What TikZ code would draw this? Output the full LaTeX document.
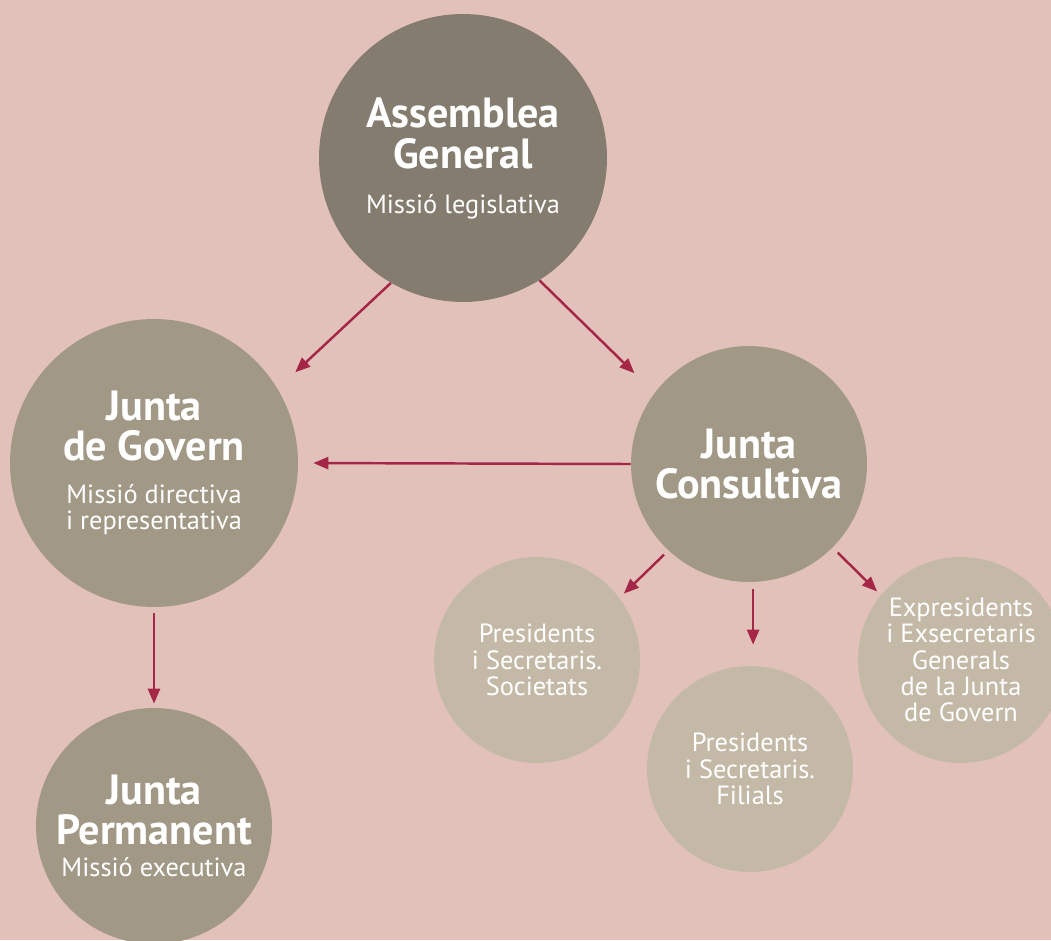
\documentclass[tikz,border=0pt]{standalone}
\usepackage{fontspec}
\setmainfont{PT Sans}
\usetikzlibrary{arrows.meta}

\definecolor{fons}{HTML}{E3C1BB}
\definecolor{fosc}{HTML}{847C6E}
\definecolor{mitja}{HTML}{A19886}
\definecolor{clar}{HTML}{C4B9A6}
\definecolor{vermell}{HTML}{A52647}

\newcommand{\titol}{\fontsize{24}{23.5}\selectfont\bfseries}
\newcommand{\lletra}{\fontsize{15}{15}\selectfont\mdseries}

\begin{document}
\begin{tikzpicture}[x=0.02cm,y=-0.02cm,every text node part/.style={align=center},
	cercle/.style={circle,inner sep=0pt,text=white,font=\lletra},
	fletxa/.style={draw=vermell,line width=1.4pt,-{Triangle[length=0.3cm,width=0.24cm]}}]
	\useasboundingbox (0,0) rectangle (1051,940);
	\clip (0,0) rectangle (1051,940);
	\fill[fons] (0,0) rectangle (1051,940);

	\node[cercle,fill=fosc,minimum size=5.76cm] (assemblea) at (463,158)
		{\titol Assemblea\\[5pt]\titol General\\[10.5pt]Missió legislativa};
	\node[cercle,fill=mitja,minimum size=5.76cm] (govern) at (154,463)
		{\titol Junta\\[4pt]\titol de Govern\\[9.5pt]Missió directiva\\i representativa};
	\node[cercle,fill=mitja,minimum size=4.72cm] (consultiva) at (749,464)
		{\titol Junta\\[4.5pt]\titol Consultiva};
	\node[cercle,fill=mitja,minimum size=4.72cm] (permanent) at (154,826)
		{\titol Junta\\[4.5pt]\titol Permanent\\[3pt]Missió executiva};

	\node[cercle,fill=clar,minimum size=4.12cm] (societats) at (537,660)
		{Presidents\\i Secretaris.\\Societats};
	\node[cercle,fill=clar,minimum size=4.12cm] (filials) at (750,769)
		{Presidents\\i Secretaris.\\Filials};
	\node[cercle,fill=clar,minimum size=4.12cm] (expresidents) at (961,660)
		{Expresidents\\i Exsecretaris\\Generals\\de la Junta\\de Govern};

	\draw[fletxa,shorten >=0.48cm] (assemblea.240) -- (govern.31);
	\draw[fletxa,shorten >=0.56cm] (assemblea.302) -- (consultiva.143);
	\draw[fletxa,shorten >=0.3cm] (consultiva.west) -- (govern.east);
	\draw[fletxa,shorten <=0.12cm,shorten >=0.08cm] (govern.south) -- (permanent.north);
	\draw[fletxa,shorten <=0.12cm,shorten >=0.12cm] (consultiva.227) -- (societats.37);
	\draw[fletxa,shorten <=0.14cm,shorten >=0.42cm] (consultiva.272) -- (consultiva.272 |- filials.north);
	\draw[fletxa,shorten <=0.14cm,shorten >=0.1cm] (consultiva.315) -- (expresidents.141);
\end{tikzpicture}
\end{document}
